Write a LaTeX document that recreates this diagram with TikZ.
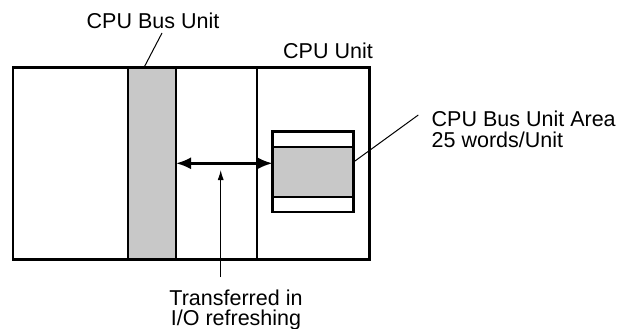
\documentclass[tikz,border=0pt]{standalone}
\usepackage{fontspec}
\setmainfont{Liberation Sans}
\usetikzlibrary{arrows.meta}
\definecolor{unitgray}{RGB}{200,200,200}
\tikzset{
  thickline/.style={line width=2.9pt},
  boxline/.style={line width=2.4pt},
  leader/.style={line width=1pt},
  lbl/.style={inner sep=0pt, anchor=base west, font=\fontsize{21.5}{21}\selectfont},
  lblc/.style={inner sep=0pt, anchor=base, font=\fontsize{21.5}{21}\selectfont},
}
\begin{document}
\begin{tikzpicture}[x=1pt,y=-1pt]
\useasboundingbox (0,0) rectangle (621,329);
% gray bus unit bar
\fill[unitgray] (128,67.5) rectangle (176,259.5);
% outer rack
\draw[thickline] (13,67.5) rectangle (369.5,259.5);
\draw[thickline] (128,67.5) -- (128,259.5);
\draw[thickline] (176,67.5) -- (176,259.5);
\draw[thickline] (257,67.5) -- (257,259.5);
% memory area box
\fill[unitgray] (272.5,147) rectangle (353.5,197);
\draw[boxline] (272.5,131.5) rectangle (353.5,212);
\draw[boxline] (272.5,147) -- (353.5,147);
\draw[boxline] (272.5,197) -- (353.5,197);
\coordinate (busR) at (176,163.3);
\coordinate (areaL) at (272.5,163.3);
\draw[boxline, {Latex[length=15pt,width=12pt]}-{Latex[length=15pt,width=12pt]}] (busR) -- (areaL);
% labels
\node[lbl] (cbu) at (86.5,28.3) {CPU Bus Unit};
\coordinate (cbuTip) at (144,67.5);
\draw[leader] (162,33) -- (cbuTip);
\node[lbl] (cpu) at (283,59) {CPU Unit};
\node[lbl] (area1) at (431.5,126) {CPU Bus Unit Area};
\node[lbl] (area2) at (431.5,147) {25 words/Unit};
\coordinate (areaTip) at (354,161.7);
\draw[leader] (418.3,115) -- (areaTip);
\node[lblc] (tr1) at (236,305) {Transferred in};
\node[lblc] (tr2) at (236,325) {I/O refreshing};
\coordinate (upTip) at (220.7,170);
\coordinate (upFoot) at (220.7,277);
\draw[leader, -{Latex[length=10pt,width=6pt]}] (upFoot) -- (upTip);
\end{tikzpicture}
\end{document}
